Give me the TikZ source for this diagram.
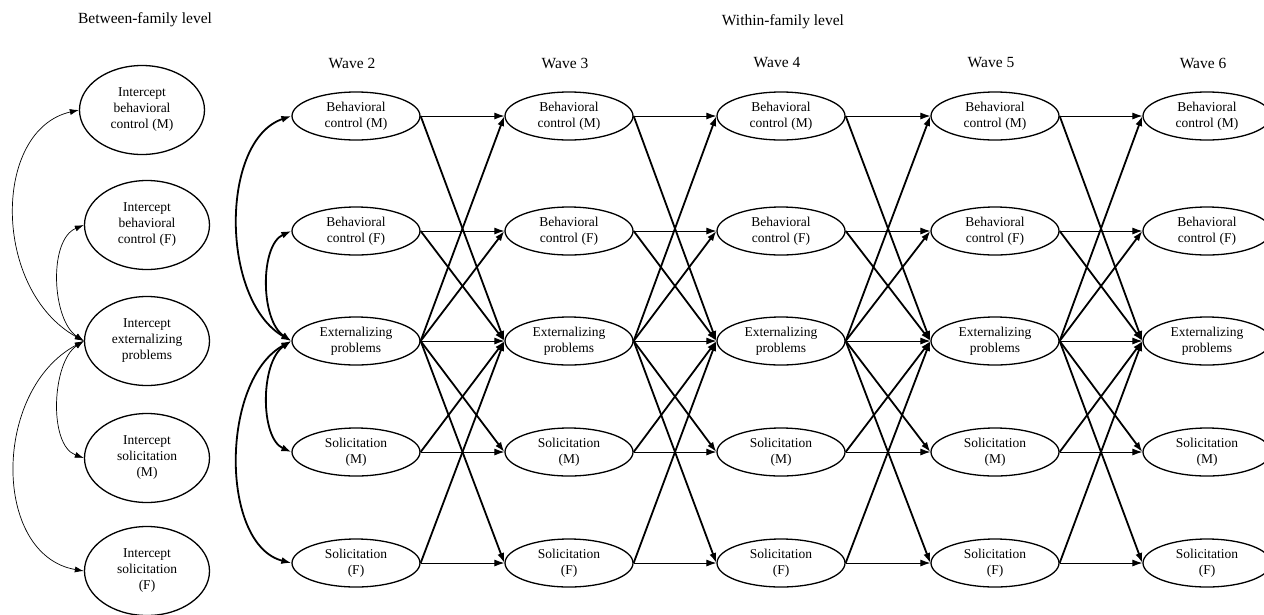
\documentclass[tikz,border=0pt]{standalone}
\usepackage{fontspec}
\setmainfont{Liberation Serif}
\newfontfamily\tnrfont{Liberation Serif}
\usetikzlibrary{arrows.meta,shapes.geometric}
\begin{document}
\begin{tikzpicture}[x=1pt,y=-1pt,
  nodefont/.style={font=\tnrfont\fontsize{13.5}{16}\selectfont},
  var/.style={ellipse,draw,line width=1.3pt,minimum width=128pt,minimum height=48pt,inner sep=0pt,align=center,nodefont},
  icpt/.style={ellipse,draw,line width=1.3pt,minimum width=125pt,minimum height=89pt,inner sep=0pt,align=center,nodefont},
  hdr/.style={font=\tnrfont\fontsize{15.5}{18}\selectfont},
  thinarr/.style={line width=0.9pt,-{Latex[length=10pt,width=7pt]}},
  thickarr/.style={line width=1.8pt,-{Latex[length=10pt,width=7pt]}},
  covthin/.style={line width=0.7pt,{Latex[length=9pt,width=6pt]}-{Latex[length=9pt,width=6pt]}},
  covthick/.style={line width=1.8pt,{Latex[length=10pt,width=7pt]}-{Latex[length=10pt,width=7pt]}}
]
\useasboundingbox (0,0) rectangle (1264,614);

% headers
\node[hdr] (bfl) at (145,20) {Between-family level};
\node[hdr] (wfl) at (783,22) {Within-family level};

% between-family intercepts
\node[icpt] (ibm) at (142,110) {Intercept\\behavioral\\control (M)};
\node[icpt] (ibf) at (147,225) {Intercept\\behavioral\\control (F)};
\node[icpt] (ie)  at (147,341) {Intercept\\externalizing\\problems};
\node[icpt] (ism) at (147,458) {Intercept\\solicitation\\(M)};
\node[icpt] (isf) at (147,571) {Intercept\\solicitation\\(F)};

\draw[covthin] (ie.west) .. controls (-8,290) and (-8,130) .. (ibm.west);
\draw[covthin] (ie.west) .. controls (52,320) and (48,240) .. (ibf.west);
\draw[covthin] (ie.west) .. controls (52,362) and (48,445) .. (ism.west);
\draw[covthin] (ie.west) .. controls (-8,390) and (-8,555) .. (isf.west);

% within-family waves
\foreach \w/\x in {2/356,3/569,4/781,5/995,6/1207} {
  \node[hdr] (lab\w) at (\x-4,63) {Wave \w};
  \node[var] (bm\w) at (\x,116) {Behavioral\\control (M)};
  \node[var] (bf\w) at (\x,231) {Behavioral\\control (F)};
  \node[var] (e\w)  at (\x,341) {Externalizing\\problems};
  \node[var] (sm\w) at (\x,452) {Solicitation\\(M)};
  \node[var] (sf\w) at (\x,563) {Solicitation\\(F)};
}

% wave 2 covariances
\draw[covthick] (e2.west) .. controls (220,300) and (220,140) .. (bm2.west);
\draw[covthick] (e2.west) .. controls (260,320) and (260,245) .. (bf2.west);
\draw[covthick] (e2.west) .. controls (260,362) and (260,438) .. (sm2.west);
\draw[covthick] (e2.west) .. controls (220,380) and (220,545) .. (sf2.west);

% cross-lagged and autoregressive paths
\foreach \a/\b in {2/3,3/4,4/5,5/6} {
  \foreach \r in {bm,bf,e,sm,sf} {
    \draw[thinarr] (\r\a.east) -- (\r\b.west);
  }
  \draw[thickarr] (bm\a.east) -- (e\b.west);
  \draw[thickarr] (bf\a.east) -- (e\b.west);
  \draw[thickarr] (sm\a.east) -- (e\b.west);
  \draw[thickarr] (sf\a.east) -- (e\b.west);
  \draw[thickarr] (e\a.east) -- (bm\b.west);
  \draw[thickarr] (e\a.east) -- (bf\b.west);
  \draw[thickarr] (e\a.east) -- (sm\b.west);
  \draw[thickarr] (e\a.east) -- (sf\b.west);
}
\end{tikzpicture}
\end{document}
